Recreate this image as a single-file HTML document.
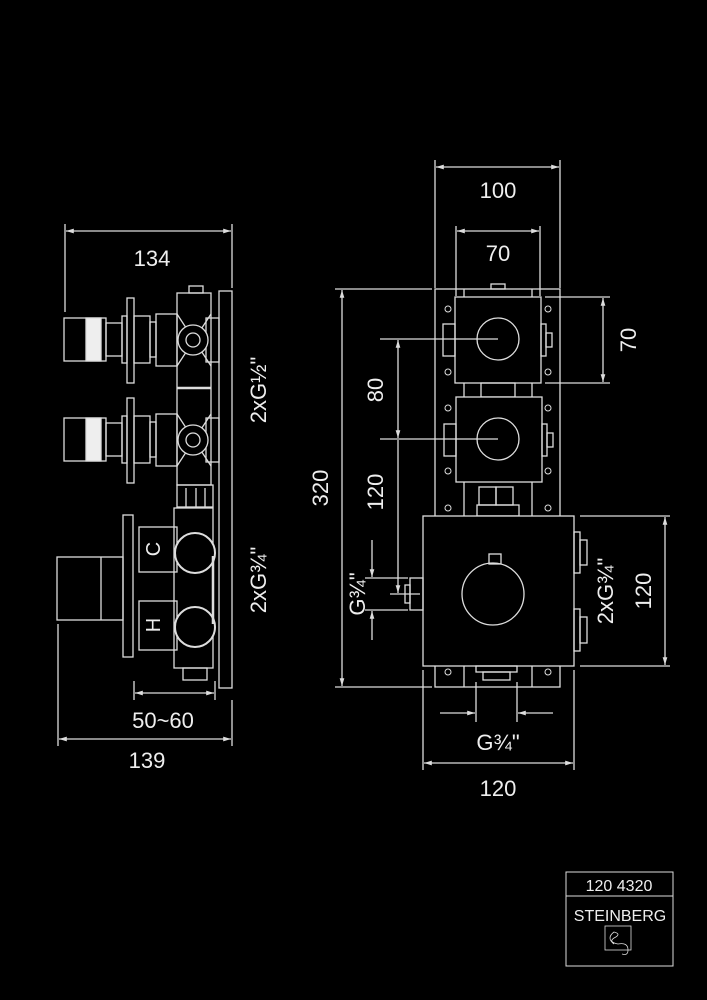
<!DOCTYPE html>
<html><head><style>html,body{margin:0;background:#000;width:707px;height:1000px;overflow:hidden}</style></head>
<body>
<svg width="707" height="1000" viewBox="0 0 707 1000" xmlns="http://www.w3.org/2000/svg">
<defs>
<marker id="a" viewBox="0 0 10 10" refX="10" refY="5" markerWidth="8" markerHeight="6" orient="auto-start-reverse"><path d="M0,2 L10,5 L0,8z" fill="#ddd"/></marker>
</defs>
<g fill="none" stroke="#ddd" stroke-width="1.3">
<line x1="65" y1="224" x2="65" y2="312"/><line x1="232" y1="224" x2="232" y2="288"/>
<line x1="66" y1="231" x2="231" y2="231" marker-start="url(#a)" marker-end="url(#a)"/>
<rect x="219" y="291" width="13" height="397"/>
<rect x="177" y="293" width="34" height="192"/>
<rect x="189" y="286" width="14" height="7"/>
<line x1="177" y1="388" x2="211" y2="388" stroke-width="2.5"/>
<g id="hv">
<rect x="64" y="318" width="42" height="43"/>
<rect x="86" y="318" width="15" height="43" fill="#eee"/>
<rect x="106" y="323" width="16" height="33"/>
<rect x="122" y="316" width="5" height="47"/>
<rect x="127" y="298" width="7" height="85"/>
<rect x="134" y="316" width="16" height="47"/>
<rect x="150" y="322" width="6" height="35"/>
<rect x="156" y="314" width="21" height="52"/>
<line x1="177" y1="314" x2="211" y2="366"/><line x1="177" y1="366" x2="211" y2="314"/>
<rect x="206" y="318" width="13" height="44"/>
<circle cx="193" cy="340" r="15" fill="#000"/><circle cx="193" cy="340" r="7"/>
</g>
<use href="#hv" y="100"/>
<rect x="177" y="485" width="36" height="22"/>
<line x1="186" y1="488" x2="186" y2="507"/><line x1="196" y1="488" x2="196" y2="507"/><line x1="205" y1="488" x2="205" y2="507"/>
<rect x="174" y="508" width="39" height="160"/>
<rect x="123" y="515" width="10" height="142"/>
<rect x="57" y="557" width="66" height="63"/><line x1="101" y1="557" x2="101" y2="620"/>
<rect x="139" y="527" width="38" height="45"/><rect x="139" y="601" width="38" height="49"/>
<circle cx="195" cy="553" r="20" fill="#000" stroke-width="2"/><circle cx="195" cy="627" r="20" fill="#000" stroke-width="2"/>
<line x1="213" y1="556" x2="213" y2="624" stroke-width="2.5"/>
<rect x="183" y="668" width="24" height="12"/>
<line x1="134" y1="681" x2="134" y2="700"/><line x1="215" y1="681" x2="215" y2="700"/>
<line x1="135" y1="693" x2="214" y2="693" marker-start="url(#a)" marker-end="url(#a)"/>
<line x1="58" y1="624" x2="58" y2="746"/><line x1="232" y1="700" x2="232" y2="746"/>
<line x1="59" y1="739" x2="231" y2="739" marker-start="url(#a)" marker-end="url(#a)"/>
<line x1="435" y1="160" x2="435" y2="288"/><line x1="560" y1="160" x2="560" y2="288"/>
<line x1="436" y1="167" x2="559" y2="167" marker-start="url(#a)" marker-end="url(#a)"/>
<line x1="456" y1="226" x2="456" y2="296"/><line x1="540" y1="226" x2="540" y2="296"/>
<line x1="457" y1="231" x2="539" y2="231" marker-start="url(#a)" marker-end="url(#a)"/>
<rect x="435" y="289" width="125" height="398"/>
<line x1="464" y1="289" x2="464" y2="687"/><line x1="532" y1="289" x2="532" y2="687"/>
<rect x="491" y="284" width="14" height="5"/>
<rect x="455" y="297" width="86" height="86" fill="#000"/>
<circle cx="498" cy="339" r="21"/>
<rect x="443" y="324" width="12" height="32"/><rect x="541" y="324" width="5" height="32"/><rect x="546" y="333" width="6" height="14"/>
<rect x="481" y="383" width="34" height="14"/>
<rect x="456" y="397" width="86" height="85" fill="#000"/>
<circle cx="498" cy="439" r="21"/>
<rect x="444" y="424" width="12" height="32"/><rect x="542" y="424" width="5" height="32"/><rect x="547" y="433" width="6" height="14"/>
<rect x="479" y="487" width="17" height="18"/><rect x="496" y="487" width="17" height="18"/>
<rect x="477" y="505" width="42" height="11"/>
<rect x="423" y="516" width="151" height="150" fill="#000"/>
<circle cx="493" cy="594" r="31"/><rect x="489" y="554" width="12" height="10"/>
<rect x="574" y="532" width="6" height="41"/><rect x="580" y="540" width="7" height="25"/>
<rect x="574" y="609" width="6" height="42"/><rect x="580" y="617" width="7" height="26"/>
<rect x="410" y="578" width="13" height="32"/><rect x="405" y="585" width="5" height="18"/>
<rect x="476" y="666" width="41" height="6"/><rect x="483" y="672" width="27" height="8"/>
<g stroke-width="1">
<circle cx="448" cy="309" r="3"/><circle cx="548" cy="309" r="3"/><circle cx="448" cy="372" r="3"/><circle cx="548" cy="372" r="3"/>
<circle cx="448" cy="408" r="3"/><circle cx="548" cy="408" r="3"/><circle cx="448" cy="471" r="3"/><circle cx="548" cy="471" r="3"/>
<circle cx="448" cy="508" r="3"/><circle cx="548" cy="508" r="3"/><circle cx="448" cy="672" r="3"/><circle cx="548" cy="672" r="3"/>
</g>
<line x1="380" y1="339" x2="498" y2="339"/><line x1="380" y1="439" x2="498" y2="439"/>
<line x1="335" y1="289" x2="432" y2="289"/><line x1="335" y1="687" x2="432" y2="687"/>
<line x1="342" y1="290" x2="342" y2="686" marker-start="url(#a)" marker-end="url(#a)"/>
<line x1="398" y1="340" x2="398" y2="438" marker-start="url(#a)" marker-end="url(#a)"/>
<line x1="398" y1="440" x2="398" y2="593" marker-end="url(#a)"/>
<line x1="390" y1="594" x2="420" y2="594"/>
<line x1="372" y1="540" x2="372" y2="577" marker-end="url(#a)"/><line x1="372" y1="640" x2="372" y2="611" marker-end="url(#a)"/>
<line x1="365" y1="578" x2="408" y2="578"/><line x1="365" y1="610" x2="408" y2="610"/>
<line x1="545" y1="297" x2="610" y2="297"/><line x1="545" y1="383" x2="610" y2="383"/>
<line x1="603" y1="298" x2="603" y2="382" marker-start="url(#a)" marker-end="url(#a)"/>
<line x1="580" y1="516" x2="670" y2="516"/><line x1="580" y1="666" x2="670" y2="666"/>
<line x1="665" y1="517" x2="665" y2="665" marker-start="url(#a)" marker-end="url(#a)"/>
<line x1="476" y1="682" x2="476" y2="722"/><line x1="517" y1="682" x2="517" y2="722"/>
<line x1="440" y1="713" x2="475" y2="713" marker-end="url(#a)"/><line x1="553" y1="713" x2="518" y2="713" marker-end="url(#a)"/>
<line x1="423" y1="670" x2="423" y2="770"/><line x1="574" y1="670" x2="574" y2="770"/>
<line x1="424" y1="763" x2="573" y2="763" marker-start="url(#a)" marker-end="url(#a)"/>
<rect x="566" y="872" width="107" height="94" stroke-width="1"/>
<line x1="566" y1="896" x2="673" y2="896" stroke-width="1"/>
<rect x="605" y="926" width="26" height="24" stroke-width="0.8"/>
<path d="M614 944 q-8 -6 0 -12 q8 2 0 6 q-6 4 4 6 q10 -2 10 6 q0 6 -6 4" stroke-width="0.8"/>
</g>
<g fill="#eee" font-family="Liberation Sans, sans-serif" font-size="22" text-anchor="middle">
<text x="152" y="266">134</text>
<text x="163" y="728">50~60</text>
<text x="147" y="768">139</text>
<text x="498" y="198">100</text>
<text x="498" y="261">70</text>
<text x="498" y="750">G¾"</text>
<text x="498" y="796">120</text>
<text transform="translate(266,390) rotate(-90)">2xG½"</text>
<text transform="translate(266,580) rotate(-90)">2xG¾"</text>
<text transform="translate(328,488) rotate(-90)">320</text>
<text transform="translate(383,390) rotate(-90)">80</text>
<text transform="translate(383,492) rotate(-90)">120</text>
<text transform="translate(365,594) rotate(-90)">G¾"</text>
<text transform="translate(636,340) rotate(-90)">70</text>
<text transform="translate(651,591) rotate(-90)">120</text>
<text transform="translate(613,591) rotate(-90)">2xG¾"</text>
<text transform="translate(160,549) rotate(-90)" font-size="20">C</text>
<text transform="translate(160,625) rotate(-90)" font-size="20">H</text>
<text x="619" y="891" font-size="16">120 4320</text>
<text x="620" y="921" font-size="16">STEINBERG</text>
</g>
</svg>
</body></html>
